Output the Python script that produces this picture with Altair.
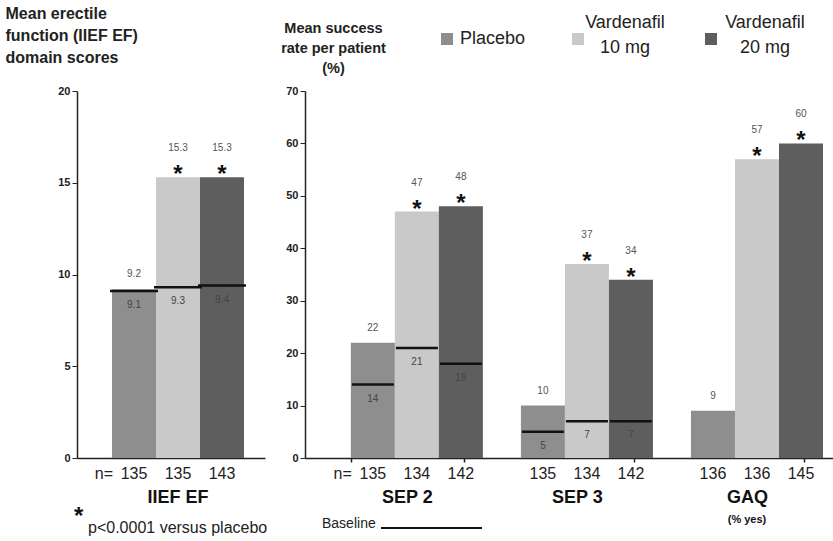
import altair as alt
import pandas as pd

FONT = "Liberation Sans"

doses = ["Placebo", "Vardenafil 10 mg", "Vardenafil 20 mg"]
bar_colors = ["#8e8e8e", "#c9c9c9", "#5e5e5e"]
starred = [False, True, True]  # p<0.0001 versus placebo

# IIEF erectile function domain scores
iief_group = ["IIEF EF"]
iief_mean = [9.2, 15.3, 15.3]
iief_baseline = [9.1, 9.3, 9.4]
iief_n = [135, 135, 143]

# Mean success rate per patient (%)
rate_groups = ["SEP 2", "SEP 3", "GAQ"]
sep2_rate = [22, 47, 48]
sep2_baseline = [14, 21, 18]
sep2_n = [135, 134, 142]
sep3_rate = [10, 37, 34]
sep3_baseline = [5, 7, 7]
sep3_n = [135, 134, 142]
gaq_rate = [9, 57, 60]
gaq_n = [136, 136, 145]


def rows(group, values, baselines, ns, fmt):
    out = []
    for i, dose in enumerate(doses):
        b = baselines[i] if baselines else None
        out.append({
            "group": group,
            "dose": dose,
            "value": values[i],
            "baseline": b,
            "n": str(ns[i]),
            "star": starred[i],
            "placebo": dose == "Placebo",
            "value_label": fmt(values[i]),
            "base_label": fmt(b) if b is not None else "",
        })
    return out


one_dec = lambda v: f"{v:.1f}"
integer = lambda v: f"{v:.0f}"

iief_df = pd.DataFrame(rows("IIEF EF", iief_mean, iief_baseline, iief_n, one_dec))
rate_df = pd.DataFrame(
    rows("SEP 2", sep2_rate, sep2_baseline, sep2_n, integer)
    + rows("SEP 3", sep3_rate, sep3_baseline, sep3_n, integer)
    + rows("GAQ", gaq_rate, None, gaq_n, integer)
)

color_scale = alt.Scale(domain=doses, range=bar_colors)
offset_scale = alt.Scale(domain=doses, paddingInner=0, paddingOuter=0)


def panel(df, groups, pad_inner, pad_outer, align, y_domain, y_values,
          title_lines, title_x, title_y, title_size, title_lh, line_size, x_ticks):
    x = alt.X(
        "group:N",
        scale=alt.Scale(domain=groups, paddingInner=pad_inner,
                        paddingOuter=pad_outer, align=align),
        axis=alt.Axis(labels=False, title=None, domainColor="#222",
                      domainWidth=1.5, ticks=x_ticks, tickBand="extent",
                      tickSize=4, tickWidth=1.5, tickColor="#222"),
    )
    xo = alt.XOffset("dose:N", scale=offset_scale)
    y_scale = alt.Scale(domain=y_domain, nice=False, zero=True)
    y_axis = alt.Axis(
        values=y_values, grid=False, domainColor="#222", domainWidth=1.5,
        tickColor="#222", tickSize=5, labelFont=FONT, labelFontWeight="bold",
        labelFontSize=11, labelColor="#222", labelPadding=2,
        title=title_lines, titleAngle=0, titleX=title_x, titleY=title_y,
        titleAlign="left" if title_x < 0 else "center",
        titleBaseline="top", titleFont=FONT, titleFontWeight="bold",
        titleFontSize=title_size, titleLineHeight=title_lh, titleColor="#222",
    )
    y_val = alt.Y("value:Q", scale=y_scale, axis=y_axis)
    y_base = alt.Y("baseline:Q", scale=y_scale, axis=y_axis)
    base = alt.Chart(df)

    bars = base.mark_bar().encode(
        x=x, xOffset=xo, y=y_val,
        color=alt.Color("dose:N", scale=color_scale, legend=None),
    )

    has_base = base.transform_filter("isValid(datum.baseline)")
    base_lines = has_base.mark_tick(
        orient="horizontal", thickness=2.5, size=line_size, color="#111", opacity=1
    ).encode(x=x, xOffset=xo, y=y_base)
    base_text = has_base.mark_text(
        dy=14, font=FONT, fontSize=10, color="#444"
    ).encode(x=x, xOffset=xo, y=y_base, text="base_label:N")

    placebo_text = base.transform_filter("datum.placebo").mark_text(
        dy=-15, font=FONT, fontSize=10, color="#555"
    ).encode(x=x, xOffset=xo, y=y_val, text="value_label:N")
    active_text = base.transform_filter("!datum.placebo").mark_text(
        dy=-29, font=FONT, fontSize=10, color="#555"
    ).encode(x=x, xOffset=xo, y=y_val, text="value_label:N")
    stars = base.transform_filter("datum.star").mark_text(
        text="*", dy=5, baseline="alphabetic", font=FONT, fontSize=24,
        fontWeight="bold", color="#111"
    ).encode(x=x, xOffset=xo, y=y_val)

    n_text = base.mark_text(
        dy=16, font=FONT, fontSize=16, color="#222"
    ).encode(x=x, xOffset=xo, y=alt.datum(0), text="n:N")
    n_eq = base.transform_filter(
        alt.FieldEqualPredicate(field="group", equal=groups[0])
    ).transform_filter("datum.placebo").mark_text(
        text="n=", dy=16, dx=-21, align="right", font=FONT, fontSize=16, color="#222"
    ).encode(x=x, xOffset=xo, y=alt.datum(0))

    group_df = pd.DataFrame({"group": groups})
    group_text = alt.Chart(group_df).mark_text(
        dy=40, font=FONT, fontSize=18, fontWeight="bold", color="#111"
    ).encode(x=x, y=alt.datum(0), text="group:N")

    return [bars, base_lines, base_text, placebo_text, active_text, stars,
            n_text, n_eq, group_text]


one = pd.DataFrame({"k": [0]})

left_layers = panel(
    iief_df, iief_group, 0, 0.212, 0.625, [0, 20], [0, 5, 10, 15, 20],
    ["Mean erectile", "function (IIEF EF)", "domain scores"],
    -72, -86, 16, 22, 48, False,
)
footnote_star = alt.Chart(one).mark_text(
    text="*", baseline="alphabetic", font=FONT, fontSize=24, fontWeight="bold",
    color="#111", align="left"
).encode(x=alt.value(-3), y=alt.value(433))
footnote_text = alt.Chart(one).mark_text(
    text="p<0.0001 versus placebo", align="left", font=FONT, fontSize=16,
    color="#222"
).encode(x=alt.value(11), y=alt.value(437))

left = alt.layer(*left_layers, footnote_star, footnote_text).properties(
    width=188, height=367
)

right_layers = panel(
    rate_df, rate_groups, 0.335, 0.22, 0.613, [0, 70], list(range(0, 71, 10)),
    ["Mean success", "rate per patient", "(%)"],
    28, -70, 14.5, 20, 42, True,
)

gaq_note = alt.Chart(one).mark_text(
    text="(% yes)", font=FONT, fontSize=11, fontWeight="bold", color="#111"
).encode(x=alt.value(442), y=alt.value(429))

baseline_key_text = alt.Chart(one).mark_text(
    text="Baseline", align="left", font=FONT, fontSize=14, color="#222"
).encode(x=alt.value(17), y=alt.value(433))
baseline_key_line = alt.Chart(one).mark_rule(
    color="#111", strokeWidth=2
).encode(x=alt.value(76), x2=alt.value(177), y=alt.value(437))

legend_layers = []
legend_specs = [
    (0, 142, 155, ["Placebo"], "left"),
    (1, 273, 320, ["Vardenafil", "10 mg"], "center"),
    (2, 406, 460, ["Vardenafil", "20 mg"], "center"),
]
for idx, sx, tx, label, al in legend_specs:
    legend_layers.append(
        alt.Chart(one).mark_square(size=144, opacity=1, color=bar_colors[idx])
        .encode(x=alt.value(sx), y=alt.value(-52))
    )
    if len(label) == 1:
        legend_layers.append(
            alt.Chart(one).mark_text(
                text=label[0], align=al, baseline="middle", font=FONT,
                fontSize=18, color="#222"
            ).encode(x=alt.value(tx), y=alt.value(-52))
        )
    else:
        legend_layers.append(
            alt.Chart(one).mark_text(
                text=label, align=al, baseline="top", lineHeight=25, font=FONT,
                fontSize=18, color="#222"
            ).encode(x=alt.value(tx), y=alt.value(-77))
        )

right = alt.layer(
    *right_layers, gaq_note, baseline_key_text, baseline_key_line, *legend_layers
).properties(width=528, height=367)

chart = alt.hconcat(left, right, spacing=40, bounds="flush").properties(
    padding={"left": 5, "top": 5, "right": 0, "bottom": 0},
    background="white",
).configure_view(stroke=None)

chart.save("out.html", embed_options={"renderer": "svg", "actions": False})
